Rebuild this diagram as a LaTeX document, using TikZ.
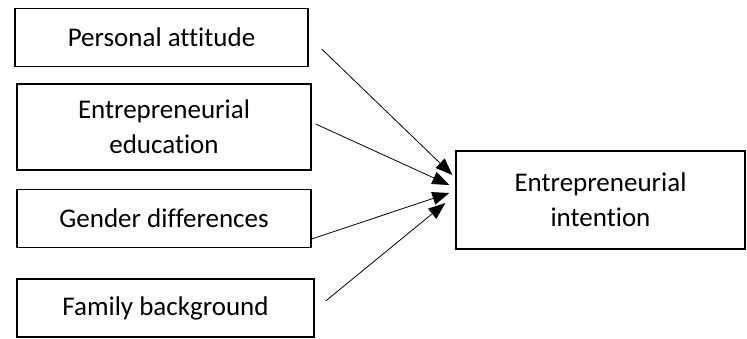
\documentclass[tikz,border=0pt]{standalone}
\usepackage{fontspec}
\setmainfont[Ligatures=NoCommon]{Carlito}
\usetikzlibrary{arrows.meta,positioning,calc}

\begin{document}
\begin{tikzpicture}[
  x=1pt, y=-1pt, >={Triangle[length=17pt,width=13pt]},
  box/.style={draw, line width=1.3pt, rectangle, inner sep=0pt, align=center,
              font=\fontsize{27}{35}\selectfont},
  link/.style={->, line width=0.8pt}]
\useasboundingbox (0,0) rectangle (747,339);
% factors
\node[box, minimum width=293pt, minimum height=58pt] (pa) at (161.5,37.5) {Personal attitude};
\node[box, minimum width=294pt, minimum height=86pt] (ee) at (164,127) {Entrepreneurial\\education};
\node[box, minimum width=294pt, minimum height=58pt] (gd) at (164,218.5) {Gender differences};
\node[box, minimum width=297pt, minimum height=58pt] (fb) at (165.5,308) {Family background};
% outcome
\node[box, minimum width=289pt, minimum height=98pt] (ei) at (600.5,200) {Entrepreneurial\\intention};
% loose line ends
\coordinate (pa-out) at ($(pa.east)+(13,11.5)$);
\coordinate (ee-out) at ($(ee.east)+(4,-3)$);
\coordinate (gd-out) at ($(gd.east)+(0,20.5)$);
\coordinate (fb-out) at ($(fb.east)+(11,-7)$);
\draw[link] (pa-out) -- ($(ei.west)+(-3,-25)$);
\draw[link] (ee-out) -- ($(ei.west)+(-6,-15)$);
\draw[link] (gd-out) -- ($(ei.west)+(-6,-7)$);
\draw[link] (fb-out) -- ($(ei.west)+(-10,3)$);
\end{tikzpicture}
\end{document}
